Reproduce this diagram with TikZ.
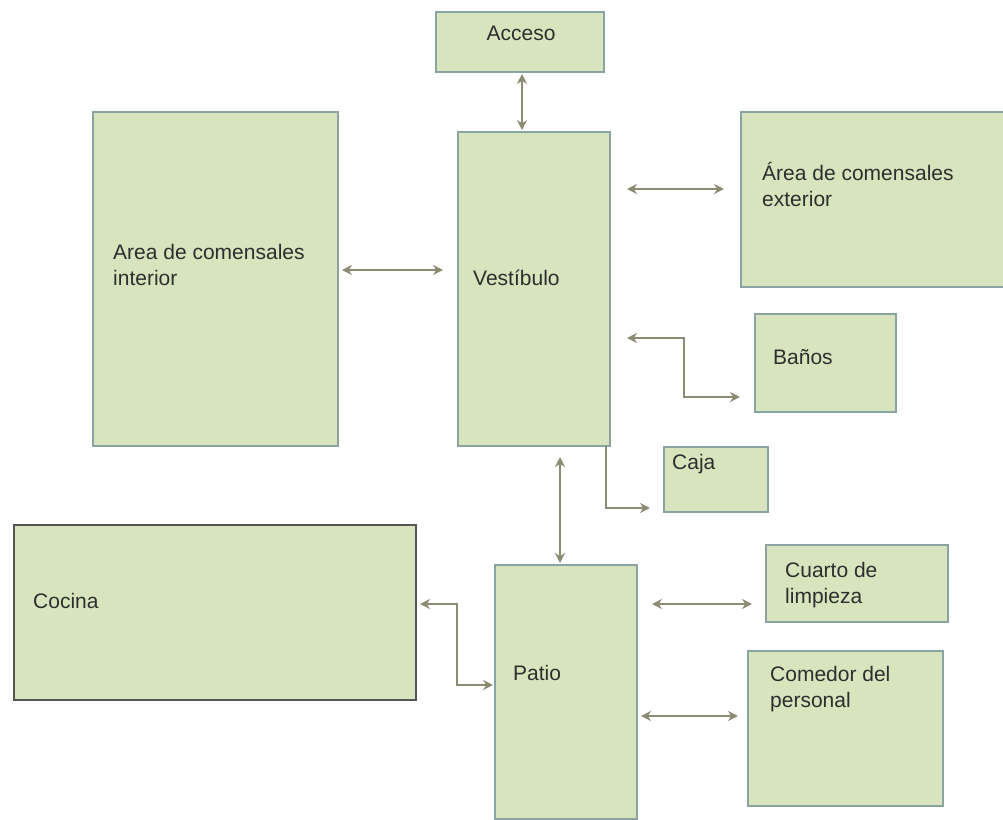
\documentclass[tikz,border=0pt]{standalone}
\usepackage{fontspec}
\setmainfont{Liberation Sans}
\usetikzlibrary{arrows.meta,calc}
\definecolor{boxfill}{HTML}{D7E4BD}
\definecolor{boxline}{HTML}{8AA3A3}
\definecolor{darkline}{HTML}{555555}
\definecolor{arrcol}{HTML}{8C8C74}
\definecolor{txtcol}{HTML}{2E2E2E}
\begin{document}
\begin{tikzpicture}[x=1pt,y=-1pt,
  box/.style={draw=boxline,fill=boxfill,line width=1.3pt,inner sep=0pt,outer sep=0pt},
  lbl/.style={anchor=base west,inner sep=0pt,text=txtcol,align=left,font=\fontsize{21}{26}\selectfont},
  conn/.style={draw=arrcol,line width=1.8pt,{Stealth[length=10pt,width=10pt]}-{Stealth[length=10pt,width=10pt]}},
  conn1/.style={draw=arrcol,line width=1.8pt,-{Stealth[length=10pt,width=10pt]}}]
\useasboundingbox (0,0) rectangle (1003,819);
% boxes (center, width, height)
\node[box,minimum width=168,minimum height=60] (acceso) at (520,42) {};
\node[box,minimum width=152,minimum height=314] (vest) at (534,289) {};
\node[box,minimum width=245,minimum height=334] (inter) at (215.5,279) {};
\node[box,minimum width=264,minimum height=175] (exter) at (873,199.5) {};
\node[box,minimum width=141,minimum height=98] (banos) at (825.5,363) {};
\node[box,minimum width=104,minimum height=65] (caja) at (716,479.5) {};
\node[box,draw=darkline,minimum width=402,minimum height=175] (cocina) at (215,612.5) {};
\node[box,minimum width=142,minimum height=254] (patio) at (566,692) {};
\node[box,minimum width=182,minimum height=77] (cuarto) at (857,583.5) {};
\node[box,minimum width=195,minimum height=155] (comedor) at (845.5,728.5) {};
% labels (multi-line: base = last line)
\node[lbl,anchor=base] (tacceso) at (521,40) {Acceso};
\node[lbl] (tvest) at (473,285) {Vestíbulo};
\node[lbl] (tinter) at (113,285) {Area de comensales\\interior};
\node[lbl] (texter) at (762,206) {Área de comensales\\exterior};
\node[lbl] (tbanos) at (773,364) {Baños};
\node[lbl] (tcaja) at (672,469) {Caja};
\node[lbl] (tcocina) at (33,608) {Cocina};
\node[lbl] (tpatio) at (513,680) {Patio};
\node[lbl] (tcuarto) at (785,603) {Cuarto de\\limpieza};
\node[lbl] (tcomedor) at (770,707) {Comedor del\\personal};
% connectors
\draw[conn] ([xshift=2pt,yshift=-2pt]acceso.south) -- ([xshift=-12pt,yshift=2pt]vest.north);
\draw[conn] ([xshift=4pt,yshift=9pt]inter.east) -- ([xshift=-15pt,yshift=19pt]vest.west);
\draw[conn] ([xshift=17pt,yshift=100pt]vest.east) -- ([xshift=-17pt,yshift=10.5pt]exter.west);
\draw[conn] ([xshift=17pt,yshift=-49pt]vest.east) -- ++(57,0) |- ([xshift=-15pt,yshift=-34pt]banos.west);
\draw[conn1] ([xshift=-4pt]vest.south east) |- ([xshift=-14pt,yshift=-28.5pt]caja.west);
\draw[conn] ([xshift=26pt,yshift=-11pt]vest.south) -- ([xshift=-6pt,yshift=2pt]patio.north);
\draw[conn] ([xshift=4pt,yshift=8.5pt]cocina.east) -- ++(37,0) |- ([xshift=-2pt,yshift=7pt]patio.west);
\draw[conn] ([xshift=15pt,yshift=88pt]patio.east) -- ([xshift=-14pt,yshift=-20.5pt]cuarto.west);
\draw[conn] ([xshift=4pt,yshift=-24pt]patio.east) -- ([xshift=-10pt,yshift=12.5pt]comedor.west);
\end{tikzpicture}
\end{document}
